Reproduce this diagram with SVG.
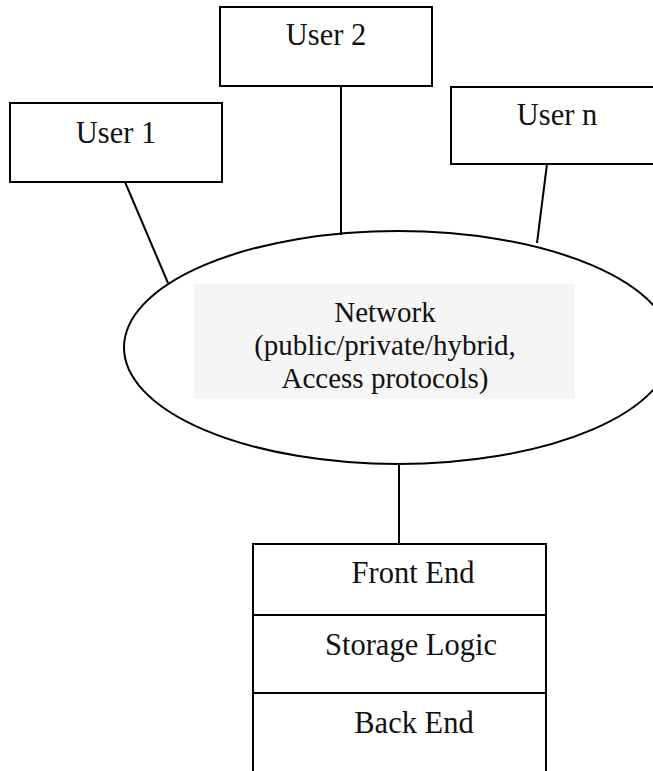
<svg xmlns="http://www.w3.org/2000/svg" width="653" height="771" viewBox="0 0 653 771">
<style>
.box{fill:#fff;stroke:#000;stroke-width:2}
.ln{stroke:#000;stroke-width:2;fill:none}
.t{font-family:"Liberation Serif","Times New Roman",serif;font-size:30.5px;fill:#111;text-anchor:middle}
.tn{font-family:"Liberation Serif","Times New Roman",serif;font-size:29px;fill:#111;text-anchor:middle}
</style>
<rect width="653" height="771" fill="#fff"/>
<g id="connectors">
<line class="ln" x1="125" y1="182" x2="168" y2="283"/>
<line class="ln" x1="341" y1="86" x2="341" y2="235"/>
<line class="ln" x1="547" y1="164" x2="537" y2="243"/>
<line class="ln" x1="399" y1="464" x2="399" y2="544"/>
</g>
<g id="network">
<ellipse class="ln" cx="398" cy="347.5" rx="274" ry="116.5"/>
<rect x="194" y="284" width="381" height="115" fill="#f5f5f5"/>
<text class="tn" x="385" y="322">Network</text>
<text class="tn" x="385" y="355">(public/private/hybrid,</text>
<text class="tn" x="385" y="388">Access protocols)</text>
</g>
<g id="user1">
<rect class="box" x="10" y="103" width="212" height="79"/>
<text class="t" x="116" y="143">User 1</text>
</g>
<g id="user2">
<rect class="box" x="220" y="7" width="212" height="79"/>
<text class="t" x="326" y="45">User 2</text>
</g>
<g id="usern">
<rect class="box" x="451" y="87" width="212" height="77"/>
<text class="t" x="557" y="125">User n</text>
</g>
<g id="stack">
<path class="ln" d="M253 772 V544 H546 V772"/>
<line class="ln" x1="253" y1="615" x2="546" y2="615"/>
<line class="ln" x1="253" y1="693" x2="546" y2="693"/>
<text class="t" x="413" y="583">Front End</text>
<text class="t" x="411" y="655">Storage Logic</text>
<text class="t" x="414" y="733">Back End</text>
</g>
</svg>
